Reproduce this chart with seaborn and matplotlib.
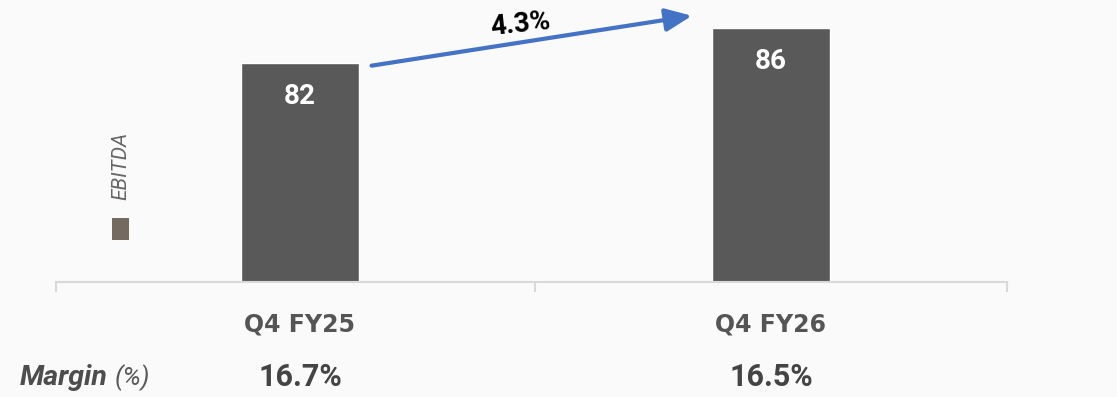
import matplotlib
matplotlib.use("Agg")
import matplotlib.pyplot as plt
import matplotlib.transforms as mtransforms
from matplotlib.patches import Rectangle
import seaborn as sns
import pandas as pd

# Data
periods = ["Q4 FY25", "Q4 FY26"]
ebitda = [82, 86]
margins = ["16.7%", "16.5%"]
growth_label = "4.3%"

BG = "#fafafa"
BAR = "#595959"
AXIS = "#d9d9d9"
TEXT = "#555555"
ARROW = "#4472c4"

sns.set_theme(style="white")
plt.rcParams["font.family"] = ["Roboto", "DejaVu Sans"]

df = pd.DataFrame({"period": periods, "ebitda": ebitda})

fig = plt.figure(figsize=(11.17, 3.97), dpi=100, facecolor=BG)
ax = fig.add_axes([0.0501, 0.2897, 0.8514, 0.7103])
ax.set_facecolor(BG)

sns.barplot(data=df, x="period", y="ebitda", color=BAR, width=0.25,
            saturation=1, ax=ax)

x_lo, x_hi = -0.518, 1.501
ax.set_xlim(x_lo, x_hi)
ax.set_ylim(57, 89.2)

for s in ["top", "right", "left"]:
    ax.spines[s].set_visible(False)
ax.spines["bottom"].set_color(AXIS)
ax.spines["bottom"].set_linewidth(1.5)
ax.set_yticks([])
ax.set_xlabel("")
ax.set_ylabel("")

# category labels (no tick marks), dividers as minor ticks
ax.tick_params(axis="x", which="major", bottom=False, length=0, pad=22)
ax.set_xticks([x_lo, 0.5, x_hi], minor=True)
ax.tick_params(axis="x", which="minor", bottom=True, length=7, width=1.5,
               color=AXIS, direction="out")
for lbl in ax.get_xticklabels():
    lbl.set_fontfamily("DejaVu Sans")
    lbl.set_fontweight("bold")
    lbl.set_fontsize(17)
    lbl.set_color(TEXT)

# values inside bars
for i, v in enumerate(ebitda):
    ax.annotate(f"{v}", xy=(i, v), xytext=(0, -24), textcoords="offset points",
                ha="center", va="center", color="white", fontsize=20,
                fontweight="bold")

# growth arrow between the bar tops
start = (0 + 0.152, ebitda[0] - 0.3)
end = (1 - 0.168, ebitda[1] + 1.4)
ax.annotate("", xy=end, xytext=start,
            arrowprops=dict(arrowstyle="-|>,head_length=0.8,head_width=0.35",
                            mutation_scale=20, color=ARROW, lw=3,
                            shrinkA=0, shrinkB=0),
            annotation_clip=False)
mid = ((start[0] + end[0]) / 2, (start[1] + end[1]) / 2)
ax.annotate(growth_label, xy=mid, xytext=(-8, 12), textcoords="offset points",
            ha="center", va="center", fontsize=20, fontweight="bold",
            color="black", rotation=6, annotation_clip=False)

# margin row below the axis
row = mtransforms.blended_transform_factory(ax.transData, fig.transFigure)
for i, m in enumerate(margins):
    ax.text(i, 0.05, m, transform=row, ha="center", va="center",
            fontsize=22, fontweight="bold", color="#444444")
fig.text(20 / 1117, 0.05, "Margin", ha="left", va="center", fontsize=20.5,
         fontweight="bold", fontstyle="italic", color="#4d4d4d")
fig.text(115 / 1117, 0.05, "(%)", ha="left", va="center", fontsize=18.5,
         fontstyle="italic", color="#595959")

# series key: swatch with vertical label
fig.patches.append(Rectangle((112 / 1117, 1 - 240 / 397), 17 / 1117, 22 / 397,
                             transform=fig.transFigure, facecolor="#756a60",
                             edgecolor="none"))
fig.text(121 / 1117, 1 - 166 / 397, "EBITDA", rotation=90, ha="center",
         va="center", fontsize=15, fontstyle="italic", color="#666666")

fig.savefig("out.png", dpi=100, facecolor=BG)
